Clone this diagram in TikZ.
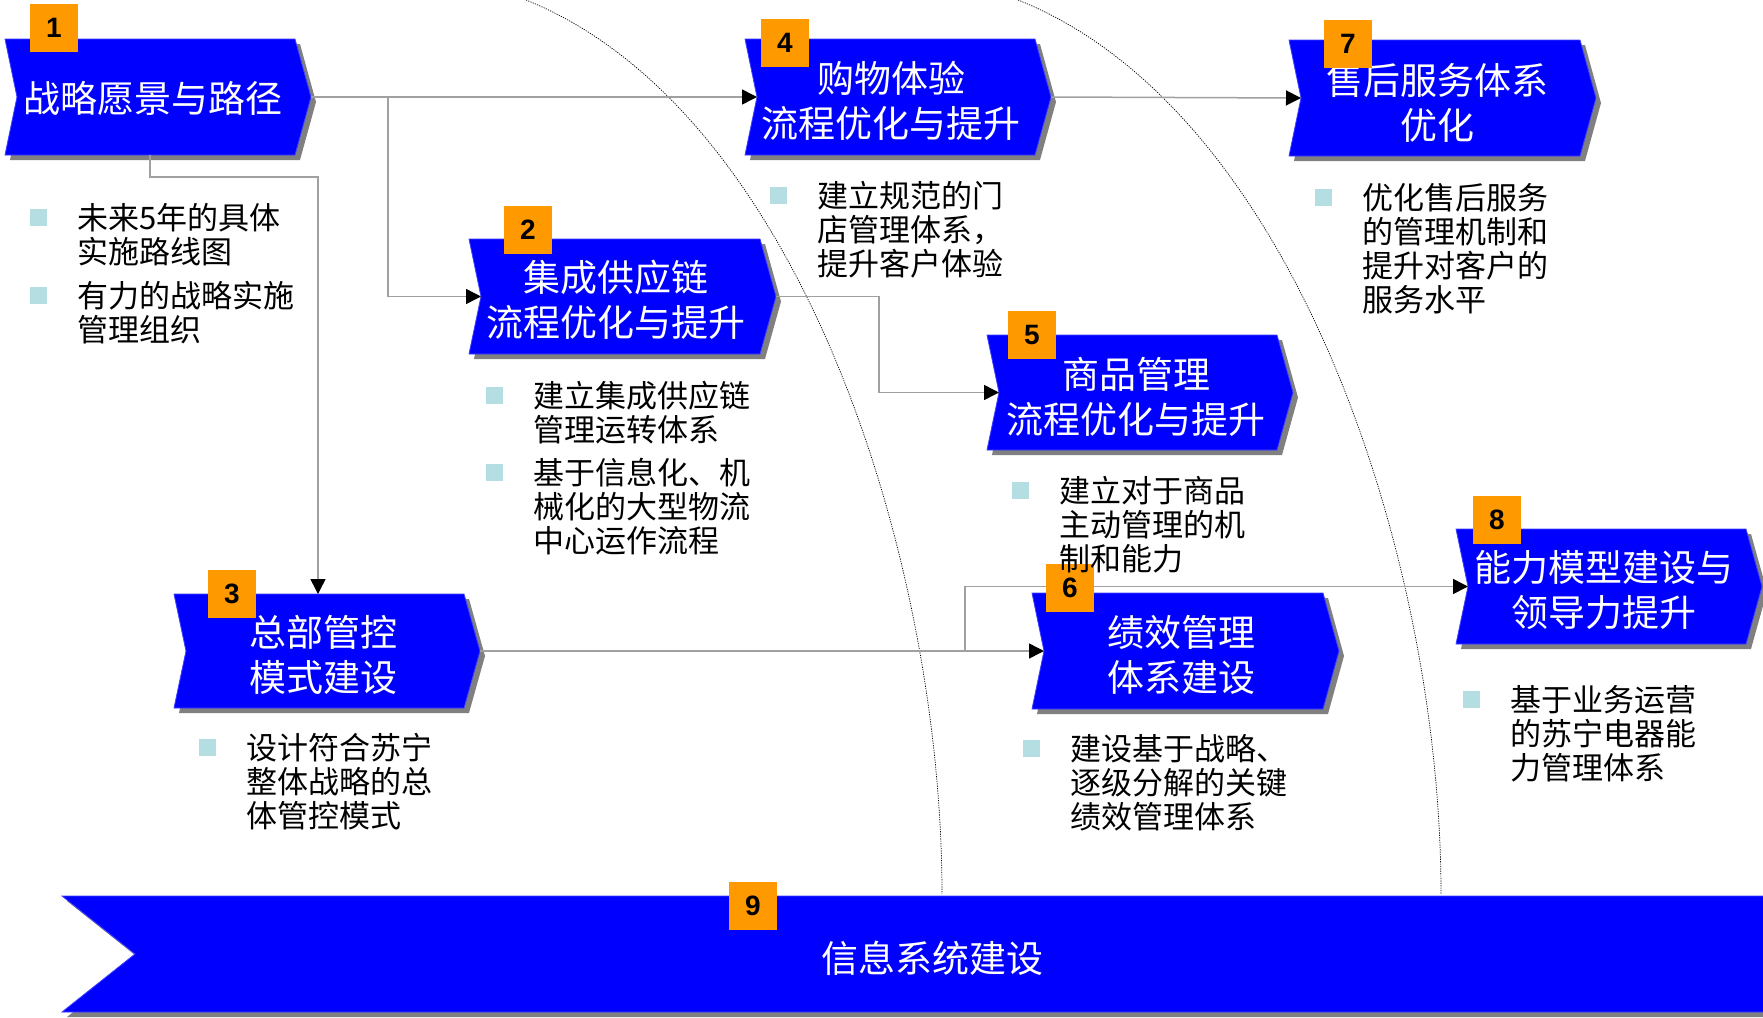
\documentclass[tikz,border=0pt]{standalone}
\usepackage{fontspec}
\newfontfamily\cjk{Noto Sans CJK SC}
\newfontfamily\arialfont{Liberation Sans}
\usetikzlibrary{arrows.meta}
\definecolor{boxblue}{RGB}{0,0,255}
\definecolor{shadowgray}{RGB}{128,128,128}
\definecolor{badgeorange}{RGB}{255,153,0}
\definecolor{bulletcyan}{RGB}{180,222,226}
\definecolor{linegray}{RGB}{160,160,160}
\tikzset{
  boxshape/.style={fill=boxblue, draw=boxblue!75!white, line width=0.4pt},
  shadowshape/.style={fill=shadowgray},
  conn/.style={draw=linegray, line width=0.75pt},
  arrowed/.style={-{Triangle[length=7.5pt,width=7.5pt]}, arrows={[color=black]}},
  boxtext/.style={text=white, font=\cjk\fontsize{18.5}{22.5}\selectfont, align=center, inner sep=0pt},
  bullettext/.style={text=black, font=\cjk\fontsize{15.5}{17}\selectfont, align=left, anchor=north west, inner sep=0pt},
  bulletsq/.style={fill=bulletcyan, minimum size=8.5pt, inner sep=0pt},
  badge/.style={fill=badgeorange, minimum size=24pt, inner sep=0pt, text=black, font=\arialfont\bfseries\fontsize{14}{15}\selectfont},
  arcline/.style={draw=black, line width=0.35pt, dash pattern=on 0.6pt off 0.6pt}
}
\newcommand\mychev[5]{%
  \path[shadowshape] ({#2+5},{#3+5}) -- ({#2+#4+5},{#3+5}) -- ({#2+#4+21},{#3+#5/2+5}) -- ({#2+#4+5},{#3+#5+5}) -- ({#2+5},{#3+#5+5}) -- ({#2+17},{#3+#5/2+5}) -- cycle;
  \path[boxshape] (#2,#3) -- ({#2+#4},#3) -- ({#2+#4+16},{#3+#5/2}) -- ({#2+#4},{#3+#5}) -- (#2,{#3+#5}) -- ({#2+12},{#3+#5/2}) -- cycle;
  \coordinate (#1tip) at ({#2+#4+16},{#3+#5/2});
  \coordinate (#1notch) at ({#2+12},{#3+#5/2});
}
\begin{document}
\begin{tikzpicture}[x=0.5pt,y=-0.5pt]
\useasboundingbox (0,0) rectangle (1763,1018);
% dotted arcs
\draw[arcline] (526,0) .. controls (800,110) and (942,560) .. (942,894);
\draw[arcline] (1018,0) .. controls (1295,110) and (1441,560) .. (1441,894);
% coordinates for connectors
\coordinate (b1drop) at (150,155);
\coordinate (b3top) at (318,594);
\coordinate (j1) at (388,97);
\coordinate (j3) at (879,296.5);
\coordinate (j4) at (965,651);
% boxes
\mychev{b1}{5}{39}{290}{116}
\mychev{b2}{469}{239}{291}{115}
\mychev{b3}{174}{594}{290}{114}
\mychev{b4}{745}{39}{290}{116}
\mychev{b5}{987}{335}{290}{115}
\mychev{b6}{1032}{593}{291}{116}
\mychev{b7}{1289}{40}{291}{116}
\mychev{b8}{1456}{529}{290}{115}
% connectors
\draw[conn,arrowed] (b1tip) -- (b4notch);
\draw[conn,arrowed] (j1) |- (b2notch);
\draw[conn,arrowed] (b1drop) -- ++(0,22) -| (b3top);
\draw[conn,arrowed] (b2tip) -- (j3) |- (b5notch);
\draw[conn,arrowed] (b3tip) -- (b6notch);
\draw[conn,arrowed] (j4) |- (b8notch);
\draw[conn,arrowed] (b4tip) -- (b7notch);
% bottom banner
\path[shadowshape] (67,901) -- (1800,901) -- (1800,1017) -- (67,1017) -- (140,959) -- cycle;
\path[boxshape] (62,896) -- (1800,896) -- (1800,1012) -- (62,1012) -- (135,954) -- cycle;
% box texts
\node[boxtext] (t1) at (153,98) {战略愿景与路径};
\node[boxtext] (t2) at (616,300) {集成供应链\\流程优化与提升};
\node[boxtext] (t3) at (323,655) {总部管控\\模式建设};
\node[boxtext] (t4) at (891,101) {购物体验\\流程优化与提升};
\node[boxtext] (t5) at (1136,397) {商品管理\\流程优化与提升};
\node[boxtext] (t6) at (1181,655) {绩效管理\\体系建设};
\node[boxtext] (t7) at (1437,103) {售后服务体系\\优化};
\node[boxtext] (t8) at (1604,590) {能力模型建设与\\领导力提升};
\node[boxtext] (t9) at (932,958) {信息系统建设};
% badges
\node[badge] (n1) at (54,28) {1};
\node[badge] (n2) at (528,229.5) {2};
\node[badge] (n3) at (232,594) {3};
\node[badge] (n4) at (785,43) {4};
\node[badge] (n5) at (1032,335) {5};
\node[badge] (n6) at (1070,588) {6};
\node[badge] (n7) at (1348,43.5) {7};
\node[badge] (n8) at (1497,519.5) {8};
\node[badge] (n9) at (753,906) {9};
% bullets
\node[bulletsq] (s1a) at (38,217) {};
\node[bullettext] (p1a) at (77,203) {未来5年的具体\\实施路线图};
\node[bulletsq] (s1b) at (38,295) {};
\node[bullettext] (p1b) at (77,281) {有力的战略实施\\管理组织};
\node[bulletsq] (s2a) at (494,395) {};
\node[bullettext] (p2a) at (533,381) {建立集成供应链\\管理运转体系};
\node[bulletsq] (s2b) at (494,472) {};
\node[bullettext] (p2b) at (533,458) {基于信息化、机\\械化的大型物流\\中心运作流程};
\node[bulletsq] (s3) at (207,747) {};
\node[bullettext] (p3) at (246,733) {设计符合苏宁\\整体战略的总\\体管控模式};
\node[bulletsq] (s4) at (778,195) {};
\node[bullettext] (p4) at (817,181) {建立规范的门\\店管理体系，\\提升客户体验};
\node[bulletsq] (s5) at (1020,490) {};
\node[bullettext] (p5) at (1059,476) {建立对于商品\\主动管理的机\\制和能力};
\node[bulletsq] (s6) at (1031,748) {};
\node[bullettext] (p6) at (1070,734) {建设基于战略、\\逐级分解的关键\\绩效管理体系};
\node[bulletsq] (s7) at (1323,197) {};
\node[bullettext] (p7) at (1362,183) {优化售后服务\\的管理机制和\\提升对客户的\\服务水平};
\node[bulletsq] (s8) at (1471,699) {};
\node[bullettext] (p8) at (1510,685) {基于业务运营\\的苏宁电器能\\力管理体系};
\end{tikzpicture}
\end{document}
